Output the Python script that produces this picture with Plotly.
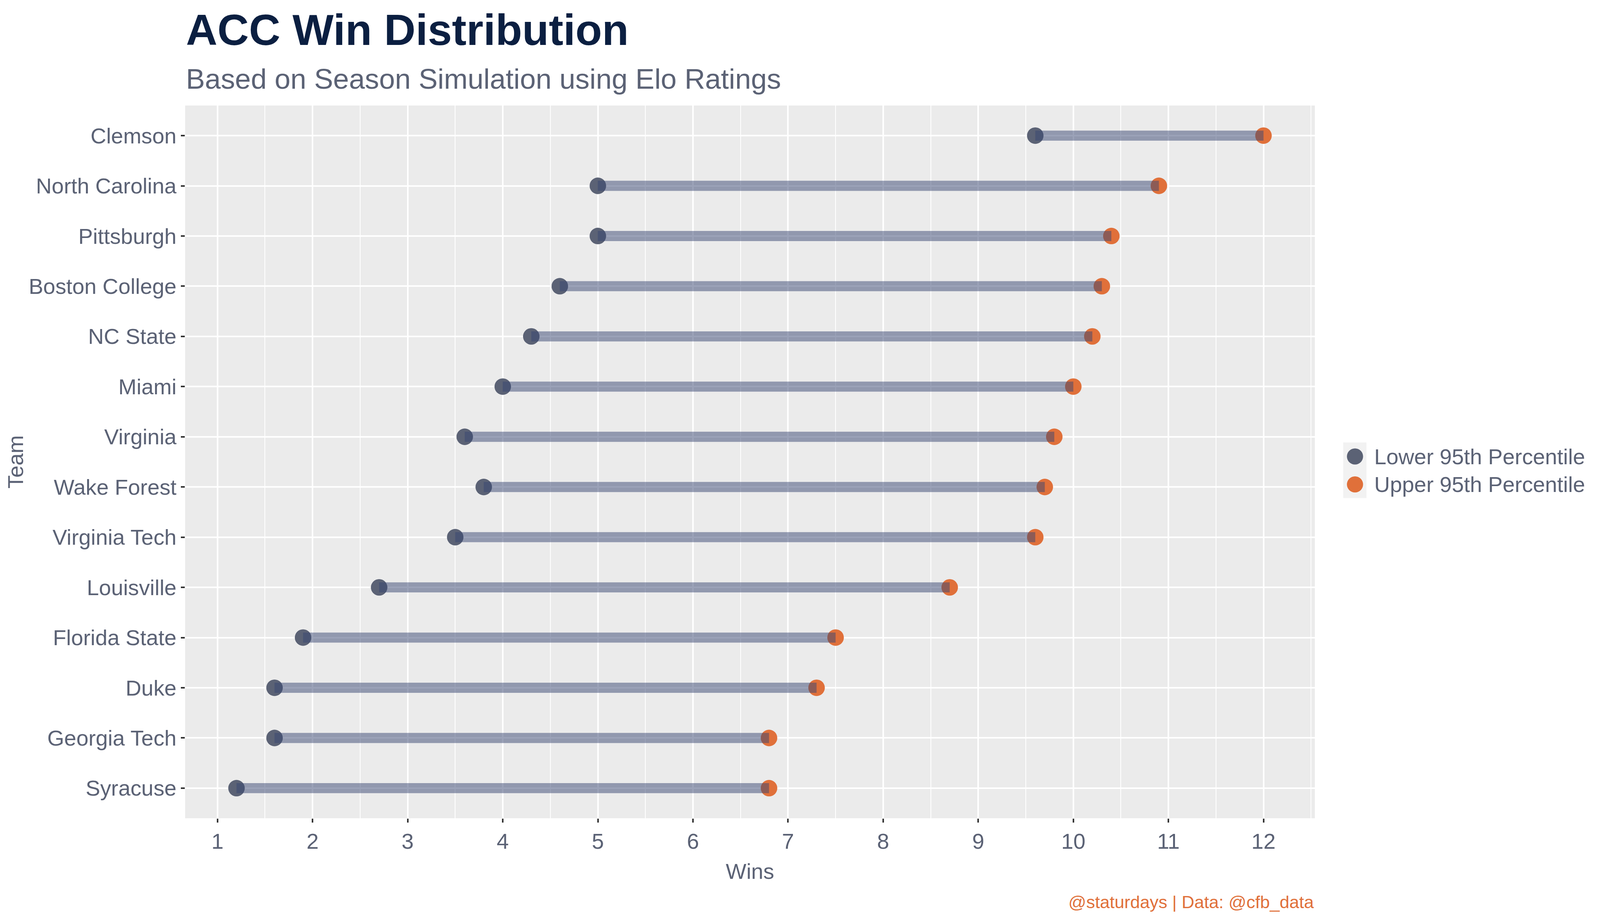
import plotly.graph_objects as go

# team order, top to bottom
teams = ["Clemson", "North Carolina", "Pittsburgh", "Boston College", "NC State",
         "Miami", "Virginia", "Wake Forest", "Virginia Tech", "Louisville",
         "Florida State", "Duke", "Georgia Tech", "Syracuse"]
lower_95 = [9.6, 5.0, 5.0, 4.6, 4.3, 4.0, 3.6, 3.8, 3.5, 2.7, 1.9, 1.6, 1.6, 1.2]
upper_95 = [12.0, 10.9, 10.4, 10.3, 10.2, 10.0, 9.8, 9.7, 9.6, 8.7, 7.5, 7.3, 6.8, 6.8]
x_ticks = list(range(1, 13))

legend_labels = ["Lower 95th Percentile", "Upper 95th Percentile"]

FONT = "Liberation Sans, Arial, sans-serif"
TEXT_COL = "#5b6275"
LOW_COL = "#5b6275"
UP_COL = "#e0703a"
SEG_COL = "rgba(55,70,114,0.5)"

# measurements taken on the 4724x2362 reference; the page itself is ~4080x2346 css px
W, H = 4724, 2362
sx, sy = 4080 / W, 2346 / H
sf = 0.9  # text / marker scale
L, R, T, B = 540, 836, 264, 262
pw, ph = W - L - R, H - T - B

fig = go.Figure()

fig.add_trace(go.Scatter(x=lower_95, y=teams, mode="markers", name=legend_labels[0],
                         marker=dict(color=LOW_COL, size=47 * sf, line=dict(width=0)),
                         showlegend=False))
fig.add_trace(go.Scatter(x=upper_95, y=teams, mode="markers", name=legend_labels[1],
                         marker=dict(color=UP_COL, size=47 * sf, line=dict(width=0)),
                         showlegend=False))

# segments drawn on top of the points
seg_x, seg_y = [], []
for t, lo, hi in zip(teams, lower_95, upper_95):
    seg_x += [lo, hi, None]
    seg_y += [t, t, None]
fig.add_trace(go.Scatter(x=seg_x, y=seg_y, mode="lines",
                         line=dict(color=SEG_COL, width=26 * sy),
                         showlegend=False, hoverinfo="skip"))

xmin, xmax = min(lower_95), max(upper_95)
pad = (xmax - xmin) * 0.05

fig.update_layout(
    autosize=True,
    margin=dict(l=L * sx, r=R * sx, t=T * sy, b=B * sy, autoexpand=False),
    paper_bgcolor="white",
    plot_bgcolor="#ebebeb",
    font=dict(family=FONT, size=62 * sf, color=TEXT_COL),
    showlegend=False,
    xaxis=dict(
        range=[xmin - pad, xmax + pad],
        tickvals=x_ticks, ticktext=[str(v) for v in x_ticks],
        showgrid=True, gridcolor="white", gridwidth=4,
        minor=dict(dtick=0.5, tick0=0.5, showgrid=True, gridcolor="white", gridwidth=2),
        zeroline=False, showline=False,
        ticks="outside", ticklen=10, tickwidth=4, tickcolor="#333333",
        tickfont=dict(size=62 * sf, color=TEXT_COL),
        title=dict(text="Wins", font=dict(size=62 * sf, color=TEXT_COL), standoff=26),
    ),
    yaxis=dict(
        categoryorder="array", categoryarray=teams,
        range=[len(teams) - 0.4, -0.6],
        showgrid=True, gridcolor="white", gridwidth=4,
        zeroline=False, showline=False,
        ticks="outside", ticklen=10, tickwidth=4, tickcolor="#333333",
        tickfont=dict(size=62 * sf, color=TEXT_COL),
        title=dict(text="Team", font=dict(size=62 * sf, color=TEXT_COL), standoff=20),
    ),
)

# title, subtitle, caption
fig.add_annotation(text="<b>ACC Win Distribution</b>", xref="paper", yref="paper",
                   x=0, y=1 + (T - 134) / ph, xanchor="left", yanchor="bottom",
                   showarrow=False, font=dict(family=FONT, size=124 * sf, color="#0b1f41"))
fig.add_annotation(text="Based on Season Simulation using Elo Ratings", xref="paper", yref="paper",
                   x=0, y=1 + (T - 238) / ph, xanchor="left", yanchor="bottom",
                   showarrow=False, font=dict(family=FONT, size=81 * sf, color=TEXT_COL))
fig.add_annotation(text="@staturdays | Data: @cfb_data", xref="paper", yref="paper",
                   x=1, y=-(2344 - (T + ph)) / ph, xanchor="right", yanchor="bottom",
                   showarrow=False, font=dict(family=FONT, size=50 * sf, color=UP_COL))

# legend, drawn by hand so the keys can be full size
key_x0, key_x1 = (3972 - L) / pw, (4041 - L) / pw
key_y0, key_y1 = (T + ph - 1275) / ph, (T + ph - 1132) / ph
fig.add_shape(type="rect", xref="paper", yref="paper", x0=key_x0, x1=key_x1,
              y0=key_y0, y1=key_y1, fillcolor="#f2f2f2", line=dict(width=0), layer="below")
key_cx = (4007 - L) / pw
r_px = 23 * sf
for i, (lab, col) in enumerate(zip(legend_labels, [LOW_COL, UP_COL])):
    cy = (T + ph - (1168 + 72 * i)) / ph
    fig.add_shape(type="circle", xref="paper", yref="paper",
                  xsizemode="pixel", ysizemode="pixel", xanchor=key_cx, yanchor=cy,
                  x0=-r_px, x1=r_px, y0=-r_px, y1=r_px, fillcolor=col, line=dict(width=0))
    fig.add_annotation(text=lab, xref="paper", yref="paper", x=(4062 - L) / pw, y=cy,
                       xanchor="left", yanchor="middle", showarrow=False,
                       font=dict(family=FONT, size=62 * sf, color=TEXT_COL))

fig.write_html("out.html")
